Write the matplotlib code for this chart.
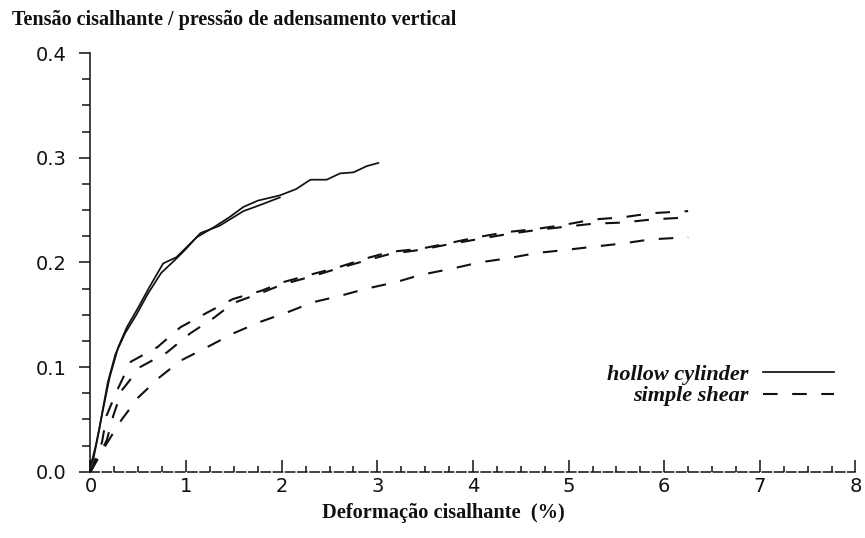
import matplotlib
matplotlib.use("Agg")
import matplotlib.pyplot as plt
from matplotlib.ticker import MultipleLocator, FixedLocator

# ---- data ----
hc_a_x = [0.0, 0.02, 0.05, 0.09, 0.13, 0.2, 0.29, 0.38, 0.5, 0.62, 0.76, 0.9, 1.11, 1.28,
          1.45, 1.6, 1.75, 1.98, 2.15, 2.3, 2.47, 2.61, 2.75, 2.89, 3.01]
hc_a_y = [0.008, 0.012, 0.023, 0.04, 0.059, 0.09, 0.119, 0.138, 0.157, 0.177, 0.199, 0.205,
          0.224, 0.233, 0.243, 0.253, 0.259, 0.264, 0.270, 0.279, 0.279, 0.285, 0.286, 0.292, 0.295]

hc_b_x = [0.0, 0.03, 0.07, 0.12, 0.18, 0.26, 0.36, 0.48, 0.6, 0.74, 0.88, 1.0, 1.15, 1.35,
          1.6, 1.75, 1.98]
hc_b_y = [0.005, 0.012, 0.03, 0.055, 0.085, 0.112, 0.132, 0.15, 0.17, 0.19, 0.202, 0.213,
          0.228, 0.235, 0.249, 0.254, 0.262]

ss_a_x = [0.0, 0.12, 0.17, 0.28, 0.42, 0.7, 0.94, 1.22, 1.49, 1.79, 2.01, 2.33, 2.58, 2.89,
          3.13, 3.45, 3.73, 4.04, 4.36, 4.67, 4.96, 5.26, 5.56, 5.87, 6.25]
ss_a_y = [0.0, 0.028, 0.054, 0.078, 0.105, 0.119, 0.138, 0.152, 0.165, 0.173, 0.181, 0.189,
          0.195, 0.204, 0.21, 0.213, 0.218, 0.224, 0.229, 0.232, 0.236, 0.241, 0.243, 0.247, 0.249]

ss_b_x = [0.0, 0.17, 0.24, 0.33, 0.52, 0.8, 1.04, 1.29, 1.49, 1.79, 2.01, 2.33, 2.58, 2.89,
          3.13, 3.45, 3.73, 4.04, 4.36, 4.67, 4.96, 5.26, 5.56, 5.87, 6.25]
ss_b_y = [0.0, 0.03, 0.054, 0.078, 0.1, 0.114, 0.132, 0.147, 0.161, 0.171, 0.179, 0.187,
          0.194, 0.202, 0.208, 0.212, 0.217, 0.222, 0.227, 0.231, 0.234, 0.237, 0.238, 0.241, 0.243]

ss_c_x = [0.0, 0.17, 0.32, 0.5, 0.72, 0.94, 1.22, 1.49, 1.77, 2.05, 2.33, 2.61, 2.89, 3.19,
          3.45, 3.78, 4.07, 4.37, 4.67, 4.98, 5.26, 5.56, 5.86, 6.25]
ss_c_y = [0.0, 0.027, 0.049, 0.071, 0.09, 0.106, 0.119, 0.132, 0.143, 0.152, 0.162, 0.168,
          0.175, 0.181, 0.188, 0.194, 0.2, 0.204, 0.209, 0.212, 0.215, 0.218, 0.222, 0.224]

x_ticks = [0, 1, 2, 3, 4, 5, 6, 7, 8]
y_ticks = [0.0, 0.1, 0.2, 0.3, 0.4]
y_tick_labels = ["0.0", "0.1", "0.2", "0.3", "0.4"]

title = "Tensão cisalhante / pressão de adensamento vertical"
xlabel = "Deformação cisalhante  (%)"
label_hc = "hollow cylinder"
label_ss = "simple shear"

# ---- figure ----
fig = plt.figure(figsize=(8.65, 5.38), dpi=100)
ax = fig.add_axes([0.1046, 0.1232, 0.8844, 0.7782])

ink = "#111111"
solid_kw = dict(color=ink, lw=1.25, solid_joinstyle="round")
dash_kw = dict(color=ink, lw=1.5, linestyle=(0, (7, 7)))

ax.plot(hc_a_x, hc_a_y, label=label_hc, **solid_kw)
ax.plot(hc_b_x, hc_b_y, **solid_kw)
ax.plot(ss_a_x, ss_a_y, label=label_ss, **dash_kw)
ax.plot(ss_b_x, ss_b_y, **dash_kw)
ax.plot(ss_c_x, ss_c_y, **dash_kw)

ax.set_xlim(0, 8)
ax.set_ylim(0, 0.4)

for s in ("top", "right"):
    ax.spines[s].set_visible(False)
ax.spines["left"].set_linewidth(1.1)
ax.spines["left"].set_color(ink)
ax.spines["bottom"].set_linewidth(1.1)
ax.spines["bottom"].set_color(ink)
ax.spines["bottom"].set_linestyle((0, (6, 2)))

ax.xaxis.set_major_locator(FixedLocator(x_ticks))
ax.xaxis.set_minor_locator(MultipleLocator(0.25))
ax.yaxis.set_major_locator(FixedLocator(y_ticks))
ax.yaxis.set_minor_locator(MultipleLocator(0.025))
ax.set_xticklabels([str(v) for v in x_ticks])
ax.set_yticklabels(y_tick_labels)

ax.tick_params(axis="x", which="major", direction="in", length=8.5, width=1.1, pad=4,
               labelsize=14, colors=ink)
ax.tick_params(axis="x", which="minor", direction="in", length=4, width=1.1, colors=ink)
ax.tick_params(axis="y", which="major", direction="out", length=8, width=1.1, pad=9,
               labelsize=14, colors=ink)
ax.tick_params(axis="y", which="minor", direction="out", length=5.5, width=1.1, colors=ink)
for lab in ax.get_xticklabels() + ax.get_yticklabels():
    lab.set_fontfamily("DejaVu Sans")

serif = ["Liberation Serif", "DejaVu Serif"]
fig.text(0.014, 1 - 25 / 538, title, fontsize=14.5, fontweight="bold", family=serif,
         ha="left", va="baseline", color=ink)
fig.text(443 / 865, 1 - 518 / 538, xlabel, fontsize=14.7, fontweight="bold", family=serif,
         ha="center", va="baseline", color=ink)

leg = ax.legend(loc="upper right", bbox_to_anchor=(845 / 865, 1 - 353 / 538),
                bbox_transform=fig.transFigure, frameon=False, markerfirst=False,
                handlelength=3.2, handletextpad=0.65, labelspacing=0.05, borderpad=0,
                prop=dict(family=serif, style="italic", weight="bold", size=16))
for t in leg.get_texts():
    t.set_color(ink)

fig.savefig("out.png", dpi=100, facecolor="white")
